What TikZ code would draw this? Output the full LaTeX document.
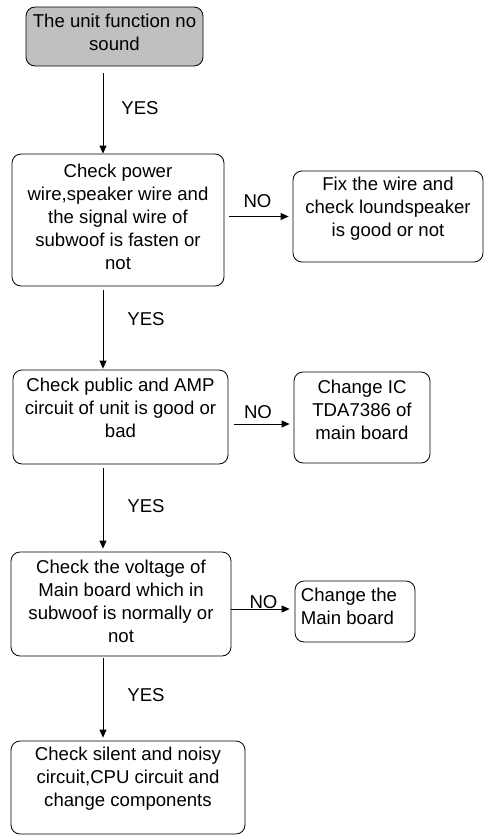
\documentclass[tikz,border=0pt]{standalone}
\usepackage{fontspec}
\setmainfont{Liberation Sans}
\usetikzlibrary{arrows.meta}
\definecolor{shade}{RGB}{192,192,192}
\definecolor{ink}{RGB}{0,0,0}
\tikzset{
  >={Triangle[length=8pt,width=7pt]},
  stepbox/.style={draw=ink,line width=0.8pt,rounded corners=9pt,fill=#1,inner sep=0pt},
  stepbox/.default=white,
  say/.style={font=\fontsize{18.6}{23}\selectfont,align=center,text=ink,inner sep=0pt},
  flow/.style={->,line width=0.8pt,draw=ink},
  tag/.style={font=\fontsize{18.6}{23}\selectfont,text=ink,inner sep=0pt},
}

\begin{document}
\begin{tikzpicture}[x=1pt,y=-1pt]
  \useasboundingbox (0,0) rectangle (484,835);
  \coordinate (spine) at (103,0);
  % main column
  \node[stepbox=shade,minimum width=177pt,minimum height=59pt,
    label={[say,yshift=4pt]center:{The unit function no\\sound}}] (start) at (114.5,36.5) {};
  \node[stepbox,minimum width=212pt,minimum height=132pt,
    label={[say,yshift=3pt]center:{Check power\\wire,speaker wire and\\the signal wire of\\subwoof is fasten or\\not}}] (power) at (118,220) {};
  \node[stepbox,minimum width=215pt,minimum height=94pt,
    label={[say,yshift=9pt]center:{Check public and AMP\\circuit of unit is good or\\bad}}] (amp) at (120.5,417) {};
  \node[stepbox,minimum width=220pt,minimum height=104pt,
    label={[say,yshift=2.5pt]center:{Check the voltage of\\Main board which in\\subwoof is normally or\\not}}] (volt) at (121,604) {};
  \node[stepbox,minimum width=234pt,minimum height=93pt,
    label={[say,yshift=8.5pt]center:{Check silent and noisy\\circuit,CPU circuit and\\change components}}] (silent) at (128,787.5) {};
  % fixes on the right
  \node[stepbox,minimum width=190pt,minimum height=91pt,
    label={[say,yshift=7.5pt]center:{Fix the wire and\\check loundspeaker\\is good or not}}] (fix) at (388,216.5) {};
  \node[stepbox,minimum width=136pt,minimum height=91pt,
    label={[say,yshift=7.5pt]center:{Change IC\\TDA7386 of\\main board}}] (ic) at (362,417.5) {};
  \node[stepbox,minimum width=120pt,minimum height=61pt,
    label={[say,align=left,xshift=-6pt,yshift=5.5pt]center:{Change the\\Main board}}] (board) at (355,611.5) {};

  % yes path
  \draw[flow,shorten <=7pt] (start.south -| spine) -- (power.north -| spine);
  \draw[flow,shorten <=4pt,shorten >=1pt] (power.south -| spine) -- (amp.north -| spine);
  \draw[flow,shorten <=4pt,shorten >=3pt] (amp.south -| spine) -- (volt.north -| spine);
  \draw[flow,shorten <=2pt,shorten >=3pt] (volt.south -| spine) -- (silent.north -| spine);
  % no path
  \draw[flow,shorten <=5pt,shorten >=4pt] (power.east |- fix.west) -- (fix.west);
  \draw[flow,shorten <=6pt,shorten >=4pt] ([yshift=-7pt]amp.east) -- ([yshift=-7pt]amp.east -| ic.west);
  \draw[flow,shorten >=5pt] ([yshift=-5pt]volt.east) -- ([yshift=-5pt]volt.east -| board.west);

  \node[tag] (yes1) at (140,108) {YES};
  \node[tag] (yes2) at (146,319) {YES};
  \node[tag] (yes3) at (146,506) {YES};
  \node[tag] (yes4) at (146,695) {YES};
  \node[tag] (no1) at (257.5,201) {NO};
  \node[tag] (no2) at (258,412) {NO};
  \node[tag] (no3) at (263.5,602) {NO};
\end{tikzpicture}
\end{document}
